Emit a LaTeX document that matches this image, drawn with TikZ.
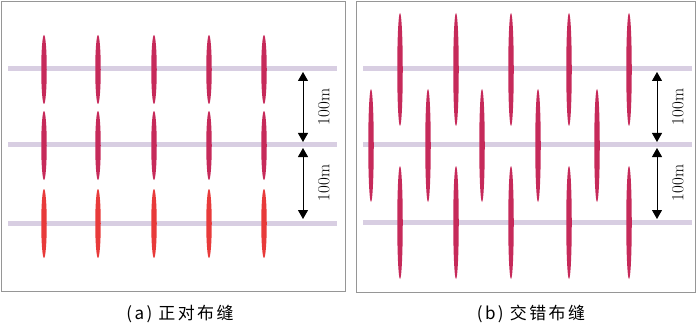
\documentclass[tikz,border=0pt]{standalone}
\usepackage{fontspec}
\newfontfamily\cjk[LetterSpace=14]{Noto Sans CJK SC}
\usetikzlibrary{shapes.geometric,arrows.meta}
\definecolor{crack}{RGB}{198,42,90}
\definecolor{crackred}{RGB}{232,58,58}
\definecolor{wellline}{RGB}{216,206,226}
\definecolor{framegray}{RGB}{150,150,150}
\tikzset{
  fracs/.style={ellipse, inner sep=0pt, minimum width=5.5, minimum height=#1, fill=crack},
  fracsred/.style={fracs=#1, fill=crackred},
  wellpath/.style={draw=wellline, line width=5},
  panelframe/.style={draw=framegray, line width=0.8},
  dimarrow/.style={draw=black, line width=0.9, {Triangle[width=10,length=9]}-{Triangle[width=10,length=9]}},
  dimlabel/.style={rotate=90, inner sep=0pt, font=\fontsize{17}{17}\selectfont},
  caption/.style={inner sep=0pt, font=\cjk\fontsize{17}{17}\selectfont}
}
\begin{document}
\begin{tikzpicture}[x=1pt,y=-1pt]
\useasboundingbox (0,0) rectangle (700,323);
% frames
\draw[panelframe] (1,1) rectangle (345,291);
\draw[panelframe] (356,1) rectangle (695,292);
% ---------- panel (a) ----------
\foreach \r/\y in {1/69,2/145,3/223}{
  \coordinate (aL\r) at (8,\y);
  \coordinate (aR\r) at (337,\y);
  \draw[wellpath] (aL\r) -- (aR\r);
}
\foreach \c/\x in {1/44,2/98,3/154,4/209,5/264}{
  \node[fracs=69] (aF1\c) at (\x,69.5) {};
  \node[fracs=69] (aF2\c) at (\x,145.5) {};
  \node[fracsred=69] (aF3\c) at (\x,223.5) {};
}
\coordinate (aA1) at (303,72);
\coordinate (aB1) at (303,142);
\coordinate (aA2) at (303,148);
\coordinate (aB2) at (303,219);
\draw[dimarrow] (aA1) -- (aB1);
\draw[dimarrow] (aA2) -- (aB2);
\node[dimlabel] (aT1) at (324,107) {100m};
\node[dimlabel] (aT2) at (324,183) {100m};
\node[caption] (capA) at (180,314) {(a) 正对布缝};
% ---------- panel (b) ----------
\foreach \r/\y in {1/69,2/145,3/222}{
  \coordinate (bL\r) at (363,\y);
  \coordinate (bR\r) at (692,\y);
  \draw[wellpath] (bL\r) -- (bR\r);
}
\foreach \c/\x in {1/400,2/456,3/511,4/569,5/629}{
  \node[fracs=113] (bF1\c) at (\x,69.5) {};
  \node[fracs=113] (bF3\c) at (\x,222.5) {};
}
\foreach \c/\x in {1/371,2/428,3/482,4/538,5/597}{
  \node[fracs=113] (bF2\c) at (\x,145.5) {};
}
\coordinate (bA1) at (657,72);
\coordinate (bB1) at (657,142);
\coordinate (bA2) at (657,148);
\coordinate (bB2) at (657,219);
\draw[dimarrow] (bA1) -- (bB1);
\draw[dimarrow] (bA2) -- (bB2);
\node[dimlabel] (bT1) at (678,107) {100m};
\node[dimlabel] (bT2) at (678,183) {100m};
\node[caption] (capB) at (531,314) {(b) 交错布缝};
\end{tikzpicture}
\end{document}
